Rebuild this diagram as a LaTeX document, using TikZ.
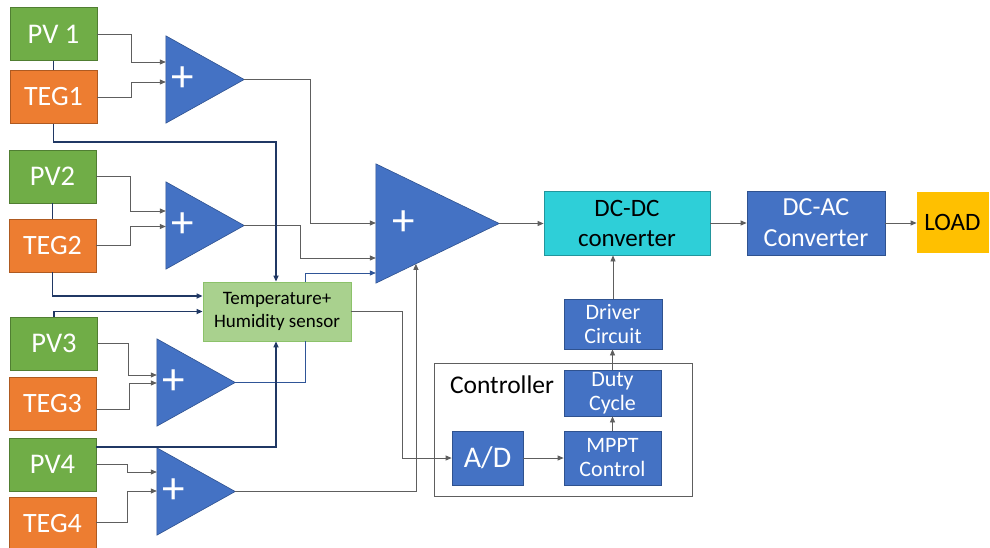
\documentclass[tikz,border=0pt]{standalone}
\usepackage{fontspec}
\setmainfont{Carlito}
\usetikzlibrary{arrows.meta,calc}

\definecolor{pvgreen}{HTML}{70AD47}
\definecolor{pvedge}{HTML}{507E32}
\definecolor{tegorange}{HTML}{ED7D31}
\definecolor{tegedge}{HTML}{AE5A21}
\definecolor{blockblue}{HTML}{4472C4}
\definecolor{blockedge}{HTML}{2F528F}
\definecolor{convcyan}{HTML}{2ECFD8}
\definecolor{convedge}{HTML}{22959C}
\definecolor{sensgreen}{HTML}{A9D18E}
\definecolor{sensedge}{HTML}{8CC26A}
\definecolor{loadyellow}{HTML}{FFC000}
\definecolor{navy}{HTML}{203864}
\definecolor{wiregray}{HTML}{5E5E5E}
\definecolor{thinblue}{HTML}{2F5597}

\newcommand{\fs}[1]{\fontsize{#1}{#1}\selectfont}

\tikzset{
  box/.style={draw, line width=0.8pt, inner sep=0pt, align=center},
  pvbox/.style={box, fill=pvgreen, draw=pvedge, text=white, font=\fs{28.5},
    minimum width=87pt, minimum height=53pt},
  tegbox/.style={box, fill=tegorange, draw=tegedge, text=white, font=\fs{28},
    minimum width=87pt, minimum height=53pt},
  blkbox/.style={box, fill=blockblue, draw=blockedge, text=white},
  ampframe/.style={inner sep=0pt, minimum width=78pt, minimum height=87pt},
  wire/.style={draw=wiregray, line width=0.8pt},
  navywire/.style={draw=navy, line width=1.8pt},
  bluewire/.style={draw=thinblue, line width=0.8pt},
  tip/.style={-{Triangle[length=6pt,width=5pt]}},
  plus/.style={text=white, font=\fs{45}, inner sep=0pt},
}

% filled amplifier triangle inside a rectangular frame node
\newcommand{\amptri}[1]{%
  \filldraw[fill=blockblue, draw=blockedge, line width=0.6pt]
    (#1.north west) -- (#1.east) -- (#1.south west) -- cycle;}

\begin{document}
\begin{tikzpicture}[x=1pt, y=-1pt]
\useasboundingbox (0,0) rectangle (990,548);

% ---- sources ----
\node[pvbox]  (pv1)  at (53.5,34)    {PV 1};
\node[tegbox] (teg1) at (53.5,97)    {TEG1};
\node[pvbox]  (pv2)  at (52.5,176.5) {PV2};
\node[tegbox] (teg2) at (52.5,245.5) {TEG2};
\node[pvbox]  (pv3)  at (54,343.5)   {PV3};
\node[tegbox] (teg3) at (52.5,403.5) {TEG3};
\node[pvbox]  (pv4)  at (52.5,464.5) {PV4};
\node[tegbox] (teg4) at (52.5,523.5) {TEG4};

% ---- adders ----
\node[ampframe] (a1) at (205,79.5)  {};
\node[ampframe] (a2) at (205,225.5) {};
\node[ampframe] (a3) at (196,382.5) {};
\node[ampframe] (a4) at (196,491.5) {};
\node[inner sep=0pt, minimum width=123pt, minimum height=119pt] (big) at (437.5,223.5) {};
\amptri{a1}\amptri{a2}\amptri{a3}\amptri{a4}\amptri{big}
\node[plus] (p1) at ($(a1.west)+(17,0)$) {+};
\node[plus] (p2) at ($(a2.west)+(17,0)$) {+};
\node[plus] (p3) at ($(a3.west)+(17,0)$) {+};
\node[plus] (p4) at ($(a4.west)+(17,0)$) {+};
\node[plus] (pb) at ($(big.west)+(28,0)$) {+};

% ---- sensor ----
\node[box, fill=sensgreen, draw=sensedge, font=\fs{19}, minimum width=148pt,
  minimum height=59pt] (sensor) at (277,311.5) {Temperature+\\[4pt]Humidity sensor};

% ---- power chain ----
\node[box, fill=convcyan, draw=convedge, font=\fs{25}, minimum width=166pt,
  minimum height=64pt] (dcdc) at (627,223) {DC-DC\\[5pt]converter};
\node[blkbox, font=\fs{26}, minimum width=138pt, minimum height=64pt]
  (dcac) at (816,223) {DC-AC\\[5pt]Converter};
\node[box, fill=loadyellow, draw=loadyellow, font=\fs{25}, minimum width=71pt,
  minimum height=60pt] (load) at (952.5,222) {LOAD};

% ---- controller ----
\node[draw=wiregray, line width=0.8pt, fill=white, minimum width=258pt,
  minimum height=133pt, inner sep=0pt] (ctrl) at (563,429.5) {};
\node[font=\fs{25.5}, inner sep=0pt] (ctrllabel) at (502,385) {Controller};
\node[blkbox, font=\fs{22}, minimum width=98pt, minimum height=50pt]
  (driver) at (613,324) {Driver\\[2pt]Circuit};
\node[blkbox, font=\fs{22}, minimum width=97pt, minimum height=46pt]
  (duty) at (612.5,393) {Duty\\[2pt]Cycle};
\node[blkbox, font=\fs{30}, minimum width=71pt, minimum height=54pt]
  (ad) at (487.5,458) {A/D};
\node[blkbox, font=\fs{22}, minimum width=97pt, minimum height=54pt]
  (mppt) at (612.5,458) {MPPT\\[2pt]Control};

% ---- adder inputs ----
\draw[wire,tip] (pv1.east)  -- ++(34,0) |- ($(a1.west)+(0,-17.5)$);
\draw[wire,tip] (teg1.east) -- ++(34,0) |- ($(a1.west)+(0,2.5)$);
\draw[wire,tip] (pv2.east)  -- ++(34,0) |- ($(a2.west)+(0,-14.5)$);
\draw[wire,tip] (teg2.east) -- ++(34,0) |- ($(a2.west)+(0,1)$);
\draw[wire,tip] (pv3.east)  -- ++(30,0) |- ($(a3.west)+(0,-7.5)$);
\draw[wire,tip] ($(teg3.east)+(0,6)$) -- ++(33,0) |- ($(a3.west)+(0,0.5)$);
\draw[wire,tip] (pv4.east)  -- ++(31,0) |- ($(a4.west)+(0,-19.5)$);
\draw[wire,tip] ($(teg4.east)+(0,-1.5)$) -- ++(31,0) |- ($(a4.west)+(0,-0.5)$);

% ---- adder outputs ----
\draw[wire,tip] (a1.east) -- ++(66,0) |- ($(big.west)+(0,-0.5)$);
\draw[wire,tip] (a2.east) -- ++(56,0) |- ($(big.west)+(0,34.5)$);
\draw[bluewire] (a3.east) -| ($(sensor.south)+(28,0)$);
\draw[bluewire,tip] ($(sensor.north)+(28,0)$) |- ($(big.west)+(0,49.5)$);
\draw[wire,tip] (a4.east) -| ($(big.south west)!0.325!(big.east)$);

% ---- sensor feeds ----
\draw[navywire] (pv1.south) -- (teg1.north);
\draw[navywire] (pv2.south) -- (teg2.north);
\draw[navywire,tip] (teg1.south) -- ++(0,18) -| ($(sensor.north)+(-1,0)$);
\draw[navywire,tip] (teg2.south) |- ($(sensor.west)+(0,-15.5)$);
\draw[navywire,tip] (pv3.north) |- (sensor.west);
\draw[navywire,tip] ($(pv4.east)+(0,-17.5)$) -| ($(sensor.south)+(-1,0)$);
\draw[wire,tip] (sensor.east) -- ++(51,0) |- (ad.west);

% ---- power and control chain ----
\draw[wire,tip] (big.east) -- (big.east -| dcdc.west);
\draw[wire,tip] (dcdc.east) -- (dcdc.east -| dcac.west);
\draw[wire,tip] (dcac.east) -- (dcac.east -| load.west);
\draw[wire,tip] (driver.north) -- (driver.north |- dcdc.south);
\draw[wire,tip] (duty.north) -- (duty.north |- driver.south);
\draw[wire,tip] (mppt.north) -- (duty.south);
\draw[wire,tip] (ad.east) -- (mppt.west);
\end{tikzpicture}
\end{document}
